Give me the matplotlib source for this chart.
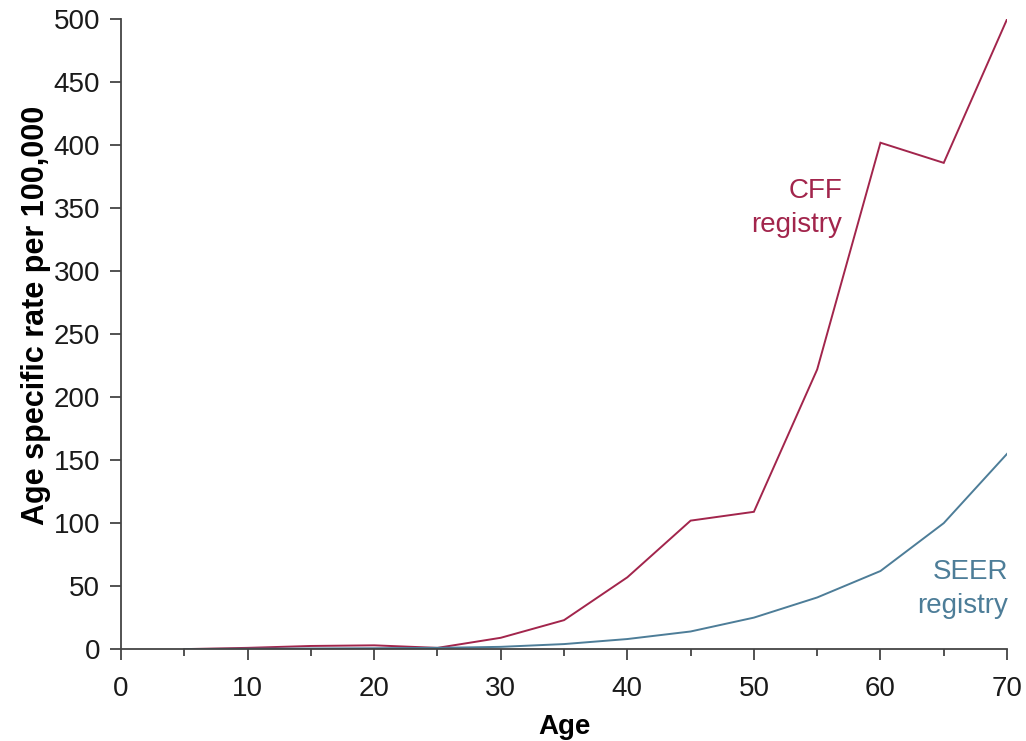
import matplotlib
matplotlib.use("Agg")
import matplotlib.pyplot as plt
from matplotlib.ticker import MultipleLocator

# Age-specific incidence per 100,000
ages = [5, 10, 15, 20, 25, 30, 35, 40, 45, 50, 55, 60, 65, 70]
cff_rate = [0, 1, 2.5, 3, 1, 9, 23, 57, 102, 109, 222, 402, 386, 500]
seer_rate = [0, 0.3, 0.5, 0.7, 1, 1.8, 4, 8, 14, 25, 41, 62, 100, 155]

cff_color = "#a2254c"
seer_color = "#4d7d98"

plt.rcParams["font.family"] = ["Liberation Sans", "DejaVu Sans"]

fig = plt.figure(figsize=(10.26, 7.41), dpi=100)
ax = fig.add_axes([0.118, 0.124, 0.8635, 0.850])

ax.plot(ages, cff_rate, color=cff_color, lw=1.4, solid_joinstyle="miter")
ax.plot(ages, seer_rate, color=seer_color, lw=1.4)

ax.set_xlim(0, 70)
ax.set_ylim(0, 500)
ax.xaxis.set_major_locator(MultipleLocator(10))
ax.xaxis.set_minor_locator(MultipleLocator(5))
ax.yaxis.set_major_locator(MultipleLocator(50))

for side in ("top", "right"):
    ax.spines[side].set_visible(False)
for side in ("left", "bottom"):
    ax.spines[side].set_color("#444444")
    ax.spines[side].set_linewidth(1.3)

ax.tick_params(axis="both", which="major", direction="out", length=8,
               width=1.3, color="#444444", labelsize=20, labelcolor="#1a1a1a", pad=7)
ax.tick_params(axis="x", which="minor", direction="out", length=5,
               width=1.3, color="#444444")
ax.tick_params(axis="x", which="major", pad=11)

ax.set_ylabel("Age specific rate per 100,000", fontsize=22, fontweight="bold")
ax.yaxis.set_label_coords(-0.079, 0.53)
ax.set_xlabel("Age", fontsize=20, fontweight="bold", labelpad=9)

ax.text(57.0, 350, "CFF\nregistry", color=cff_color, fontsize=20,
        ha="right", va="center", linespacing=1.4)
ax.text(70.1, 48, "SEER\nregistry", color=seer_color, fontsize=20,
        ha="right", va="center", linespacing=1.4)

fig.savefig("out.png", dpi=100)
